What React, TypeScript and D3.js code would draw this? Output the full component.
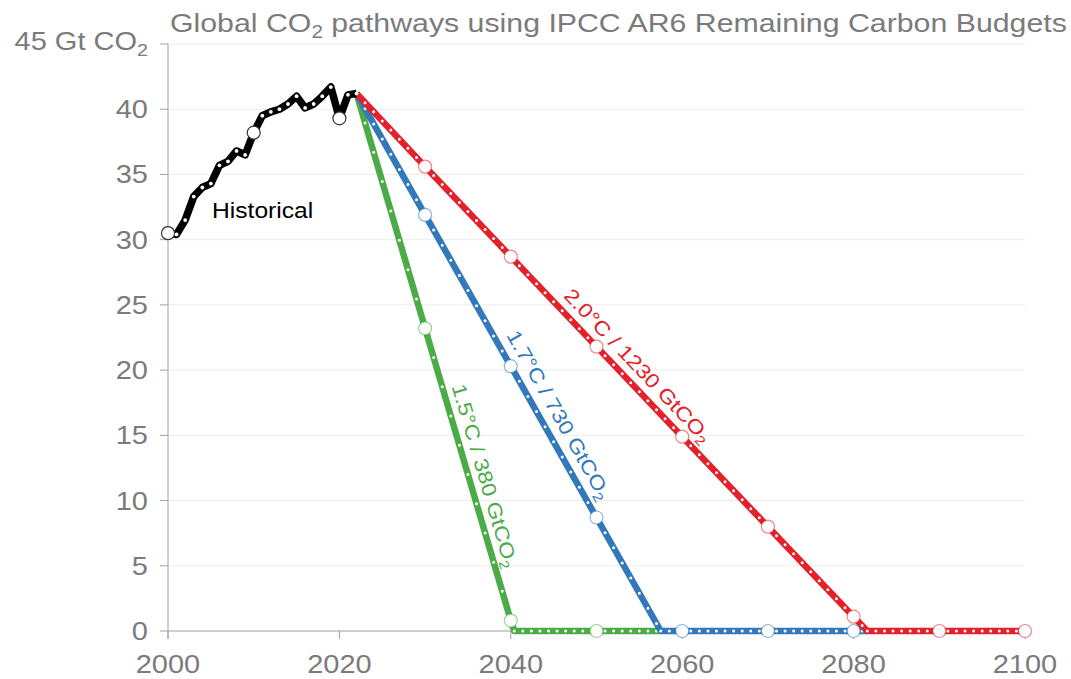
import * as d3 from "d3";
import React from "react";

// historical emissions (Gt CO2)
const histYears = [
  2000, 2001, 2002, 2003, 2004, 2005, 2006, 2007, 2008, 2009, 2010, 2011,
  2012, 2013, 2014, 2015, 2016, 2017, 2018, 2019, 2020, 2021, 2022,
];
const histValues = [
  30.5, 30.4, 31.5, 33.3, 34.0, 34.3, 35.7, 36.0, 36.8, 36.5, 38.2, 39.5,
  39.8, 40.0, 40.4, 41.0, 40.1, 40.4, 41.0, 41.7, 39.3, 41.1, 41.2,
];

// pathways
const greenYears = [2022, 2030, 2040, 2040.4, 2050, 2057.5];
const greenValues = [41.2, 23.2, 0.8, 0, 0, 0];
const blueYears = [2022, 2030, 2040, 2050, 2057.5, 2060, 2070, 2080, 2081.6];
const blueValues = [41.2, 31.9, 20.3, 8.7, 0, 0, 0, 0, 0];
const redYears = [2022, 2030, 2040, 2050, 2060, 2070, 2080, 2081.6, 2090, 2100];
const redValues = [41.2, 35.6, 28.7, 21.8, 14.9, 8.0, 1.1, 0, 0, 0];

const yTicks = [0, 5, 10, 15, 20, 25, 30, 35, 40, 45];
const xTicks = [2000, 2020, 2040, 2060, 2080, 2100];

const W = 1071;
const H = 679;
const FONT = "'Liberation Sans', Arial, Helvetica, sans-serif";
const gray = "#7b7b7b";

const x = d3.scaleLinear().domain([2000, 2100]).range([168, 1025]);
const y = d3.scaleLinear().domain([0, 45]).range([631, 44]);

const series = [
  { name: "green", years: greenYears, values: greenValues, color: "#4bab47", label: "1.5°C / 380 GtCO", labelYear: 2035.2, off: -9 },
  { name: "blue", years: blueYears, values: blueValues, color: "#3279bb", label: "1.7°C / 730 GtCO", labelYear: 2043.8, off: -11 },
  { name: "red", years: redYears, values: redValues, color: "#e4202a", label: "2.0°C / 1230 GtCO", labelYear: 2053.4, off: -10 },
];

const line = d3
  .line<[number, number]>()
  .x((d) => x(d[0]))
  .y((d) => y(d[1]));

// text stretched a bit wider like the original
const SText = ({ x, y, size, fill = gray, anchor = "start", rotate = 0, sx = 1.16, children }: any) => (
  <g transform={`translate(${x},${y}) rotate(${rotate}) scale(${sx},1)`}>
    <text textAnchor={anchor} fontSize={size} fill={fill} fontFamily={FONT}>
      {children}
    </text>
  </g>
);

const Sub = ({ size }: { size: number }) => (
  <tspan fontSize={size * 0.68} dy={size * 0.22}>
    2
  </tspan>
);

// dotted white overlay, one dot per year along each segment
const yearDots = (ys: number[], vs: number[], width: number) =>
  ys.slice(1).map((t1, i) => {
    const t0 = ys[i];
    const x0 = x(t0), y0 = y(vs[i]), x1 = x(t1), y1 = y(vs[i + 1]);
    const len = Math.hypot(x1 - x0, y1 - y0);
    const step = len / (t1 - t0);
    return (
      <path
        key={i}
        d={`M${x0},${y0}L${x1},${y1}`}
        stroke="#fff"
        strokeWidth={width}
        strokeLinecap="round"
        strokeDasharray={`0 ${step}`}
        fill="none"
      />
    );
  });

const labelPos = (ys: number[], vs: number[], t: number) => {
  const i = Math.max(0, d3.bisectRight(ys, t) - 1);
  const t0 = ys[i], t1 = ys[i + 1];
  const v = vs[i] + ((vs[i + 1] - vs[i]) * (t - t0)) / (t1 - t0);
  const ang = (Math.atan2(y(vs[i + 1]) - y(vs[i]), x(t1) - x(t0)) * 180) / Math.PI;
  return { px: x(t), py: y(v), ang };
};

export default function App() {
  return (
    <svg
      width={W}
      height={H}
      style={{ position: "absolute", left: 0, top: 0, background: "#fff" }}
    >
      {/* grid */}
      {yTicks.filter((t) => t > 0).map((t) => (
        <line key={t} x1={x(2000)} x2={x(2100)} y1={y(t)} y2={y(t)} stroke="#ececec" strokeWidth={1} />
      ))}

      {/* axes */}
      <line x1={x(2000)} x2={x(2000)} y1={y(45)} y2={y(0) + 8} stroke="#a0a0a0" />
      <line x1={x(2000)} x2={x(2100)} y1={y(0)} y2={y(0)} stroke="#a0a0a0" />
      {yTicks.map((t) => (
        <g key={t}>
          <line x1={x(2000) - 8} x2={x(2000)} y1={y(t)} y2={y(t)} stroke="#a0a0a0" />
          {t < 45 && (
            <SText x={148} y={y(t) + 9} size={25} anchor="end">
              {t}
            </SText>
          )}
        </g>
      ))}
      {xTicks.map((t) => (
        <g key={t}>
          <line x1={x(t)} x2={x(t)} y1={y(0)} y2={y(0) + 8} stroke="#a0a0a0" />
          <SText x={x(t)} y={673} size={25} anchor="middle">
            {t}
          </SText>
        </g>
      ))}

      <SText x={148} y={50} size={25} anchor="end">
        45 Gt CO<Sub size={25} />
      </SText>
      <SText x={170} y={32} size={26} sx={1.165}>
        Global CO<Sub size={26} />
        <tspan dy={-26 * 0.22}> pathways using IPCC AR6 Remaining Carbon Budgets</tspan>
      </SText>

      {/* pathways */}
      {series.map((s) => {
        const pts = s.years.map((t, i) => [t, s.values[i]] as [number, number]);
        const lp = labelPos(s.years, s.values, s.labelYear);
        return (
          <g key={s.name}>
            <path d={line(pts) || ""} fill="none" stroke={s.color} strokeWidth={6.5} strokeLinejoin="round" />
            {yearDots(s.years, s.values, 3)}
            {pts
              .filter((p) => p[0] % 10 === 0)
              .map((p) => (
                <circle key={p[0]} cx={x(p[0])} cy={y(p[1])} r={6.5} fill="#fff" stroke={s.color} strokeOpacity={0.55} strokeWidth={1.2} />
              ))}
            <g transform={`translate(${lp.px},${lp.py}) rotate(${lp.ang})`}>
              <SText x={0} y={s.off} size={20} fill={s.color} anchor="middle">
                {s.label}
                <Sub size={20} />
              </SText>
            </g>
          </g>
        );
      })}

      {/* historical */}
      <path
        d={line(histYears.map((t, i) => [t, histValues[i]] as [number, number])) || ""}
        fill="none"
        stroke="#000"
        strokeWidth={7.5}
        strokeLinejoin="round"
      />
      {histYears.map((t, i) =>
        t % 10 === 0 ? (
          <circle key={t} cx={x(t)} cy={y(histValues[i])} r={6.5} fill="#fff" stroke="#333" strokeWidth={1.2} />
        ) : (
          <circle key={t} cx={x(t)} cy={y(histValues[i])} r={1.9} fill="#fff" />
        )
      )}
      <SText x={212} y={218} size={22} fill="#000" sx={1.12}>
        Historical
      </SText>
    </svg>
  );
}
